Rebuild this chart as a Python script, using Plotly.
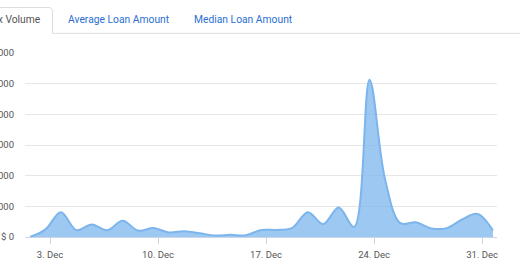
import plotly.graph_objects as go

# ---- data ----
dates = [f"2018-12-{d:02d} 17:00" for d in range(1, 32)]
volume = [0, 5000, 16200, 4400, 8200, 4400, 10600, 4200, 5800, 3000,
          3800, 2400, 1000, 1400, 1200, 4600, 4600, 6000, 16200, 8400,
          19200, 6600, 102600, 38000, 9000, 9600, 5600, 5800, 11400, 15000,
          4200]
tick_dates = ["2018-12-03", "2018-12-10", "2018-12-17", "2018-12-24", "2018-12-31"]
tick_labels = ["3. Dec", "10. Dec", "17. Dec", "24. Dec", "31. Dec"]
y_ticks = [0, 20000, 40000, 60000, 80000, 100000, 120000]
y_labels = ["$ 0", "$ 20 000", "$ 40 000", "$ 60 000", "$ 80 000", "$ 100 000", "$ 120 000"]
tabs = ["Tx Volume", "Average Loan Amount", "Median Loan Amount"]

W, H = 520, 272
L, R, T, B = 25, 497, 53, 245
FONT = "Roboto"


def px(x):
    return (x - L) / (R - L)


def py(y):
    return (B - y) / (B - T)


fig = go.Figure()
fig.add_trace(go.Scatter(
    x=dates, y=volume, mode="lines", fill="tozeroy",
    line=dict(color="#7cb5ec", width=2, shape="spline", smoothing=1.0),
    fillcolor="rgba(124,181,236,0.75)", hoverinfo="skip", showlegend=False,
))

shapes = [
    # line under tabs
    dict(type="line", xref="paper", yref="paper", x0=px(52.5), x1=px(525), y0=py(32.5), y1=py(32.5),
         line=dict(color="#dddddd", width=1)),
    # active tab outline
    dict(type="path", xref="paper", yref="paper",
         path=(f"M {px(-10)},{py(32.5)} L {px(-10)},{py(5.5)} L {px(48)},{py(5.5)} "
               f"Q {px(52.5)},{py(5.5)} {px(52.5)},{py(10)} L {px(52.5)},{py(32.5)}"),
         line=dict(color="#dddddd", width=1)),
]

annotations = [
    dict(text=tabs[0], xref="paper", yref="paper", x=px(-10.5), y=py(18), xanchor="left",
         yanchor="middle", showarrow=False, font=dict(family=FONT, size=10.3, color="#555555")),
    dict(text=tabs[1], xref="paper", yref="paper", x=px(66), y=py(18), xanchor="left",
         yanchor="middle", showarrow=False, font=dict(family=FONT, size=10.3, color="#2a6fd1")),
    dict(text=tabs[2], xref="paper", yref="paper", x=px(192), y=py(18), xanchor="left",
         yanchor="middle", showarrow=False, font=dict(family=FONT, size=10.3, color="#2a6fd1")),
]

fig.update_layout(
    width=W, height=H,
    margin=dict(l=L, r=W - R, t=T, b=H - B, pad=0),
    paper_bgcolor="white", plot_bgcolor="white",
    shapes=shapes, annotations=annotations,
    font=dict(family=FONT, size=9.5, color="#666666"),
    xaxis=dict(
        type="date", range=["2018-12-01 09:07", "2018-12-31 23:17"],
        tickvals=tick_dates, ticktext=tick_labels,
        showgrid=False, zeroline=False, showline=True, linecolor="#ccd6eb", linewidth=1,
        ticks="outside", ticklen=6, tickcolor="#ccd6eb", tickwidth=1,
        ticklabelstandoff=3,
        tickfont=dict(family=FONT, size=9.5, color="#555555"),
        fixedrange=True,
    ),
    yaxis=dict(
        range=[0, 120000], tickvals=y_ticks, ticktext=y_labels,
        showgrid=True, gridcolor="#e6e6e6", gridwidth=1, zeroline=False, showline=False,
        ticks="", ticklabelstandoff=10,
        tickfont=dict(family=FONT, size=9.5, color="#555555"),
        automargin=False, fixedrange=True,
    ),
)

fig.write_html("out.html")
